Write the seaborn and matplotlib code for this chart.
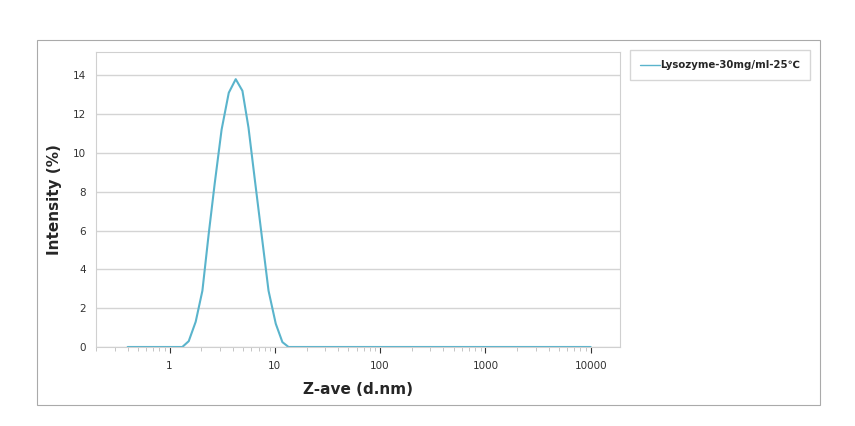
import matplotlib
matplotlib.use("Agg")
import matplotlib.pyplot as plt
import seaborn as sns
import pandas as pd
from matplotlib.patches import Rectangle
from matplotlib.ticker import LogLocator

sns.set_style("white")
plt.rcParams['font.family'] = ['DejaVu Sans']

size_nm = [0.4, 1.15, 1.32, 1.52, 1.77, 2.05, 2.35, 2.68, 3.12, 3.65, 4.25, 4.92,
           5.62, 6.46, 7.52, 8.71, 10.2, 11.8, 13.5, 15.7, 10000]
intensity = [0, 0, 0, 0.3, 1.3, 2.9, 5.8, 8.4, 11.2, 13.1, 13.8, 13.2,
             11.3, 8.6, 5.7, 2.9, 1.2, 0.25, 0, 0, 0]
series = "Lysozyme-30mg/ml-25\u2103"
df = pd.DataFrame({"size": size_nm, "int": intensity})

fig = plt.figure(figsize=(8.55, 4.26), dpi=100)
fig.patches.append(Rectangle((37/855, 1-405/426), (820-37)/855, (405-40)/426,
                             transform=fig.transFigure, fill=False, ec="#aaaaaa", lw=0.8))
ax = fig.add_axes([96/855, 1-347/426, (620-96)/855, (347-52)/426])
sns.lineplot(data=df, x="size", y="int", ax=ax, color="#5ab4cc", lw=1.5, label=series, sort=False)
ax.set_xscale("log")
ax.set_xlim(0.2, 19000)
ax.set_ylim(0, 15.2)
ax.set_yticks(range(0, 15, 2))
ax.set_xticks([1, 10, 100, 1000, 10000])
ax.set_xticklabels(["1", "10", "100", "1000", "10000"])
ax.xaxis.set_minor_locator(LogLocator(base=10, subs=range(2, 10)))
ax.tick_params(axis="x", which="minor", length=3, color="#bbbbbb", bottom=True)
ax.tick_params(axis="x", which="major", length=4, color="#bbbbbb", bottom=True, pad=6)
ax.tick_params(labelsize=7.5, colors="#333333")
ax.grid(axis="y", color="#d4d4d4", lw=1)
for s in ax.spines.values():
    s.set_color("#d0d0d0")
ax.set_xlabel("Z-ave (d.nm)", fontsize=11, fontweight="bold", labelpad=8)
ax.set_ylabel("Intensity (%)", fontsize=11, fontweight="bold", labelpad=8)
leg = ax.legend(loc="upper left", bbox_to_anchor=(630/855, 1-50/426), bbox_transform=fig.transFigure,
                frameon=True, fancybox=False, handlelength=2.0, handletextpad=0,
                borderpad=1.0, borderaxespad=0, prop={"weight": "bold", "size": 7.3})
leg.get_frame().set_edgecolor("#cccccc")
for l in leg.get_lines():
    l.set_linewidth(1.0)
fig.savefig("out.png", dpi=100)
